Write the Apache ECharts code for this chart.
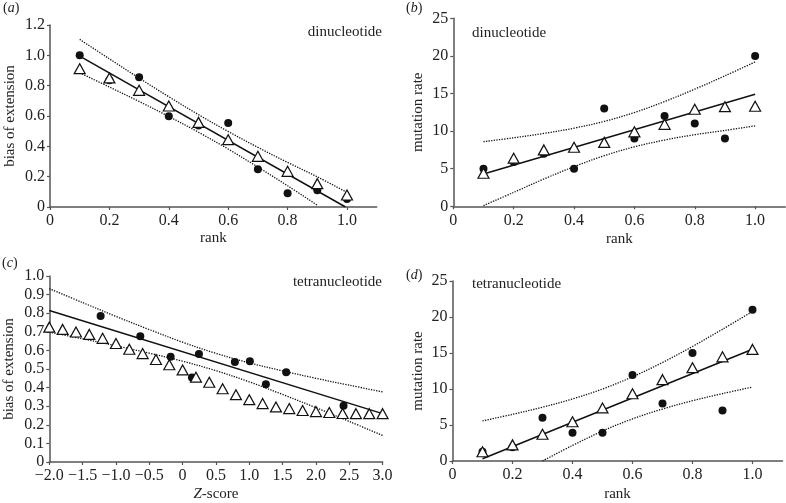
<!DOCTYPE html>
<html>
<head>
<meta charset="utf-8">
<script src="https://cdn.jsdelivr.net/npm/echarts@6/dist/echarts.min.js"></script>
<style>html,body{margin:0;padding:0;background:#fff}#c{width:786px;height:503px}</style>
</head>
<body>
<div id="c"></div>
<script>
// ---------- data ----------
const rankX = [0.1, 0.2, 0.3, 0.4, 0.5, 0.6, 0.7, 0.8, 0.9, 1.0];
const rankTicks = [0, 0.2, 0.4, 0.6, 0.8, 1.0];

// (a) dinucleotide, bias of extension vs rank
const aCircles = [1.0, 0.835, 0.855, 0.598, 0.538, 0.554, 0.249, 0.09, 0.11, 0.053];
const aTriangles = [0.912, 0.851, 0.769, 0.666, 0.558, 0.444, 0.334, 0.235, 0.154, 0.079];
const aFitX = [0.1, 0.995];
const aFitY = [0.995, 0];
const aUpper = [1.105, 0.977, 0.850, 0.727, 0.609, 0.498, 0.393, 0.294, 0.199, 0.096];
const aLowerX = [0.1, 0.2, 0.3, 0.4, 0.5, 0.6, 0.7, 0.8, 0.9];
const aLower = [0.885, 0.791, 0.696, 0.597, 0.493, 0.382, 0.263, 0.140, 0.012];

// (b) dinucleotide, mutation rate vs rank
const bCircles = [5.0, 5.9, 7.0, 5.0, 13.0, 9.0, 12.0, 11.0, 9.0, 20.0];
const bTriangles = [4.4, 6.4, 7.5, 7.85, 8.5, 9.9, 10.9, 12.9, 13.25, 13.3];
const bFitX = [0.1, 1.0];
const bFitY = [4.3, 14.9];
const bUpper = [8.6, 9.11, 9.69, 10.39, 11.29, 12.47, 13.93, 15.58, 17.35, 19.2];
const bLower = [0.1, 1.85, 3.63, 5.27, 6.73, 7.91, 8.81, 9.52, 10.09, 10.7];

// (c) tetranucleotide, bias of extension vs Z-score
const cTriX = [-2.0, -1.8, -1.6, -1.4, -1.2, -1.0, -0.8, -0.6, -0.4, -0.2, 0, 0.2, 0.4,
               0.6, 0.8, 1.0, 1.2, 1.4, 1.6, 1.8, 2.0, 2.2, 2.4, 2.6, 2.8, 3.0];
const cTriangles = [0.725, 0.713, 0.699, 0.686, 0.665, 0.637, 0.606, 0.583, 0.551, 0.523, 0.495, 0.456, 0.429,
                    0.394, 0.362, 0.335, 0.314, 0.296, 0.287, 0.277, 0.271, 0.266, 0.261, 0.26, 0.26, 0.26];
const cCircX = [-1.23, -0.635, -0.18, 0.14, 0.245, 0.784, 1.009, 1.249, 1.554, 2.414];
const cCircles = [0.785, 0.676, 0.566, 0.454, 0.58, 0.537, 0.541, 0.418, 0.482, 0.303];
const cFitX = [-2.0, 3.0];
const cFitY = [0.815, 0.26];
const cBandX = [-2.0, -1.5, -1.0, -0.5, 0, 0.5, 1.0, 1.5, 2.0, 2.5, 3.0];
const cUpper = [0.932, 0.857, 0.783, 0.712, 0.644, 0.584, 0.533, 0.490, 0.450, 0.413, 0.377];
const cLower = [0.698, 0.662, 0.625, 0.585, 0.542, 0.491, 0.431, 0.363, 0.292, 0.218, 0.143];

// (d) tetranucleotide, mutation rate vs rank
const dCircles = [1.3, 1.92, 6.0, 3.94, 3.94, 11.95, 8.0, 15.0, 7.0, 21.0];
const dTriangles = [1.28, 2.24, 3.71, 5.45, 7.37, 9.34, 11.3, 12.96, 14.47, 15.5];
const dFitX = [0.1, 1.0];
const dFitY = [0.32, 15.52];
const dUpper = [5.57, 6.48, 7.47, 8.62, 10.0, 11.69, 13.68, 15.91, 18.3, 20.77];
const dLowerX = [0.3, 0.4, 0.5, 0.6, 0.7, 0.8, 0.9, 1.0];
const dLower = [0, 2.16, 4.16, 5.85, 7.22, 8.37, 9.36, 10.27];

// ---------- styling ----------
const FONT = 'Liberation Serif';
const TXT = '#222';
const AX = '#555';
const zip = (xs, ys) => xs.map((x, i) => [x, ys[i]]);

function fmt(v) {
  if (Math.abs(v) < 1e-9) return '0';
  return v.toFixed(1).replace('-', '\u2212');
}
function fmtInt(v) { return String(Math.round(v)); }

function xAxisCfg(idx, opts) {
  const base = {
    type: 'value', gridIndex: idx,
    axisLine: { show: true, onZero: false, lineStyle: { color: AX, width: 1.5 } },
    axisTick: { show: true, inside: false, length: 3, lineStyle: { color: AX, width: 1.2 } },
    axisLabel: { color: TXT, fontFamily: FONT, fontSize: 16, margin: 6, formatter: fmt },
    splitLine: { show: false },
    nameLocation: 'middle',
    nameTextStyle: { color: TXT, fontFamily: FONT, fontSize: 15 }
  };
  return Object.assign(base, opts);
}
function yAxisCfg(idx, opts) {
  const base = {
    type: 'value', gridIndex: idx,
    axisLine: { show: true, onZero: false, lineStyle: { color: AX, width: 1.5 } },
    axisTick: { show: true, inside: false, length: 3, lineStyle: { color: AX, width: 1.2 } },
    axisLabel: { color: TXT, fontFamily: FONT, fontSize: 16, margin: 5 },
    splitLine: { show: false },
    nameLocation: 'middle',
    nameTextStyle: { color: TXT, fontFamily: FONT, fontSize: 15 }
  };
  return Object.assign(base, opts);
}

function panelSeries(idx, circ, tri, fit, upper, lower) {
  const line = (data, type, w, z) => ({
    type: 'line', xAxisIndex: idx, yAxisIndex: idx, data: data,
    showSymbol: false, symbol: 'none', smooth: type === 'dotted' ? 0.35 : false,
    lineStyle: { color: '#111', width: w, type: type, opacity: 1 }, z: z, silent: true, animation: false
  });
  return [
    line(upper, 'dotted', 1.3, 1),
    line(lower, 'dotted', 1.3, 1),
    line(fit, 'solid', 1.5, 2),
    { type: 'scatter', xAxisIndex: idx, yAxisIndex: idx, data: circ, symbol: 'circle', symbolSize: 8,
      itemStyle: { color: '#111', opacity: 1 }, z: 3, animation: false, silent: true },
    { type: 'scatter', xAxisIndex: idx, yAxisIndex: idx, data: tri, symbol: 'triangle', symbolSize: [11, 10],
      itemStyle: { color: '#fff', borderColor: '#111', borderWidth: 1.2, opacity: 1 }, z: 4, animation: false, silent: true }
  ];
}

const rankAxisOpts = (idx, gap) => xAxisCfg(idx, {
  min: 0, max: 1.1, interval: 0.1, name: 'rank', nameGap: gap,
  axisLabel: { color: TXT, fontFamily: FONT, fontSize: 16, margin: 6, formatter: fmt, customValues: rankTicks },
  axisTick: { show: true, length: 3, lineStyle: { color: AX, width: 1.2 }, customValues: rankTicks }
});

const option = {
  backgroundColor: '#fff',
  animation: false,
  grid: [
    { left: 50, top: 25, width: 326.7, height: 182 },
    { left: 453.3, top: 18.3, width: 332, height: 188 },
    { left: 49.3, top: 276, width: 333.3, height: 187 },
    { left: 452.5, top: 281, width: 330, height: 182 }
  ],
  xAxis: [
    rankAxisOpts(0, 24),
    rankAxisOpts(1, 25),
    xAxisCfg(2, {
      min: -2, max: 3, interval: 0.5, name: '{i|Z}-score', nameGap: 25,
      nameTextStyle: { color: TXT, fontFamily: FONT, fontSize: 15,
        rich: { i: { fontStyle: 'italic', fontFamily: FONT, fontSize: 15, color: TXT } } }
    }),
    rankAxisOpts(3, 26)
  ],
  yAxis: [
    yAxisCfg(0, { min: 0, max: 1.2, interval: 0.2, name: 'bias of extension', nameGap: 32,
      axisLabel: { color: TXT, fontFamily: FONT, fontSize: 16, margin: 5, formatter: fmt } }),
    yAxisCfg(1, { min: 0, max: 25, interval: 5, name: 'mutation rate', nameGap: 28,
      axisLabel: { color: TXT, fontFamily: FONT, fontSize: 16, margin: 5, formatter: fmtInt } }),
    yAxisCfg(2, { min: 0, max: 1.0, interval: 0.1, name: 'bias of extension', nameGap: 33,
      axisLabel: { color: TXT, fontFamily: FONT, fontSize: 16, margin: 5, formatter: fmt } }),
    yAxisCfg(3, { min: 0, max: 25, interval: 5, name: 'mutation rate', nameGap: 27,
      axisLabel: { color: TXT, fontFamily: FONT, fontSize: 16, margin: 5, formatter: fmtInt } })
  ],
  series: [].concat(
    panelSeries(0, zip(rankX, aCircles), zip(rankX, aTriangles), zip(aFitX, aFitY), zip(rankX, aUpper), zip(aLowerX, aLower)),
    panelSeries(1, zip(rankX, bCircles), zip(rankX, bTriangles), zip(bFitX, bFitY), zip(rankX, bUpper), zip(rankX, bLower)),
    panelSeries(2, zip(cCircX, cCircles), zip(cTriX, cTriangles), zip(cFitX, cFitY), zip(cBandX, cUpper), zip(cBandX, cLower)),
    panelSeries(3, zip(rankX, dCircles), zip(rankX, dTriangles), zip(dFitX, dFitY), zip(rankX, dUpper), zip(dLowerX, dLower))
  ),
  graphic: [
    ['({i|a})', 3, 8], ['({i|b})', 406, 8], ['({i|c})', 2, 263], ['({i|d})', 406, 275]
  ].map(p => ({
    type: 'text', x: p[1], y: p[2], silent: true,
    style: { text: p[0], fontFamily: FONT, fontSize: 14, fill: TXT, verticalAlign: 'middle', align: 'left',
      rich: { i: { fontStyle: 'italic', fontFamily: FONT, fontSize: 14, fill: TXT } } }
  })).concat([
    ['dinucleotide', 382, 32, 'right'], ['dinucleotide', 472, 33, 'left'],
    ['tetranucleotide', 382, 282, 'right'], ['tetranucleotide', 472, 284, 'left']
  ].map(p => ({
    type: 'text', x: p[1], y: p[2], silent: true,
    style: { text: p[0], fontFamily: FONT, fontSize: 15, fill: TXT, verticalAlign: 'middle', align: p[3] }
  })))
};

const chart = echarts.init(document.getElementById('c'), null, { renderer: 'canvas' });
chart.setOption(option);
</script>
</body>
</html>
